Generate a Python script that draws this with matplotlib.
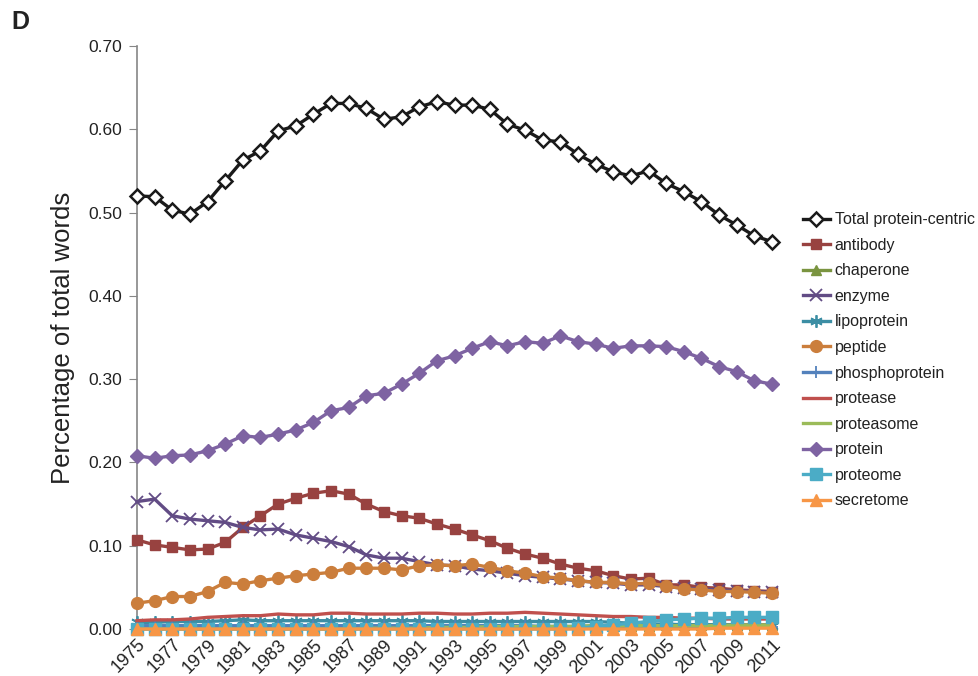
import matplotlib
matplotlib.use("Agg")
import matplotlib.pyplot as plt

plt.rcParams['font.family'] = ['Liberation Sans', 'DejaVu Sans']

years = list(range(1975, 2012))

total = [0.520, 0.519, 0.503, 0.498, 0.513, 0.538, 0.563, 0.574, 0.598, 0.604,
         0.618, 0.631, 0.631, 0.625, 0.612, 0.615, 0.627, 0.633, 0.629, 0.629,
         0.624, 0.606, 0.599, 0.587, 0.585, 0.570, 0.558, 0.549, 0.544, 0.550,
         0.535, 0.525, 0.513, 0.497, 0.485, 0.472, 0.465]
antibody = [0.107, 0.101, 0.098, 0.095, 0.096, 0.104, 0.122, 0.136, 0.150, 0.157,
            0.163, 0.166, 0.162, 0.150, 0.141, 0.136, 0.133, 0.126, 0.120, 0.113,
            0.106, 0.097, 0.090, 0.085, 0.078, 0.073, 0.070, 0.064, 0.060, 0.061,
            0.053, 0.053, 0.050, 0.049, 0.047, 0.046, 0.045]
chaperone = [0.001, 0.001, 0.001, 0.001, 0.001, 0.001, 0.001, 0.001, 0.001, 0.001,
             0.001, 0.001, 0.001, 0.001, 0.001, 0.001, 0.001, 0.002, 0.002, 0.002,
             0.002, 0.002, 0.002, 0.003, 0.003, 0.003, 0.004, 0.004, 0.004, 0.004,
             0.005, 0.005, 0.005, 0.005, 0.005, 0.005, 0.005]
enzyme = [0.153, 0.156, 0.136, 0.132, 0.130, 0.128, 0.122, 0.119, 0.120, 0.113,
          0.109, 0.105, 0.099, 0.089, 0.085, 0.085, 0.081, 0.077, 0.076, 0.072,
          0.070, 0.067, 0.064, 0.062, 0.060, 0.058, 0.056, 0.055, 0.053, 0.053,
          0.051, 0.049, 0.048, 0.047, 0.046, 0.045, 0.044]
lipoprotein = [0.008, 0.008, 0.009, 0.009, 0.009, 0.010, 0.011, 0.010, 0.010, 0.010,
               0.010, 0.010, 0.010, 0.010, 0.010, 0.010, 0.010, 0.009, 0.009, 0.009,
               0.009, 0.009, 0.009, 0.009, 0.009, 0.009, 0.009, 0.008, 0.007, 0.006,
               0.006, 0.005, 0.005, 0.005, 0.004, 0.004, 0.004]
peptide = [0.031, 0.034, 0.039, 0.039, 0.045, 0.056, 0.054, 0.058, 0.061, 0.064,
           0.066, 0.068, 0.073, 0.073, 0.073, 0.071, 0.076, 0.077, 0.076, 0.078,
           0.074, 0.070, 0.067, 0.063, 0.061, 0.058, 0.056, 0.056, 0.054, 0.055,
           0.052, 0.048, 0.047, 0.045, 0.045, 0.044, 0.043]
phosphoprotein = [0.004, 0.004, 0.004, 0.004, 0.004, 0.004, 0.004, 0.004, 0.004, 0.004,
                  0.004, 0.004, 0.004, 0.004, 0.004, 0.004, 0.004, 0.004, 0.004, 0.004,
                  0.004, 0.004, 0.004, 0.003, 0.003, 0.003, 0.003, 0.003, 0.003, 0.003,
                  0.003, 0.003, 0.003, 0.003, 0.003, 0.003, 0.003]
protease = [0.010, 0.011, 0.011, 0.012, 0.014, 0.015, 0.016, 0.016, 0.018, 0.017,
            0.017, 0.019, 0.019, 0.018, 0.018, 0.018, 0.019, 0.019, 0.018, 0.018,
            0.019, 0.019, 0.020, 0.019, 0.018, 0.017, 0.016, 0.015, 0.015, 0.014,
            0.014, 0.013, 0.013, 0.012, 0.012, 0.012, 0.012]
proteasome = [0.000, 0.000, 0.000, 0.000, 0.000, 0.000, 0.000, 0.000, 0.000, 0.000,
              0.000, 0.000, 0.000, 0.001, 0.001, 0.001, 0.001, 0.002, 0.002, 0.002,
              0.003, 0.003, 0.003, 0.003, 0.003, 0.003, 0.004, 0.004, 0.004, 0.004,
              0.004, 0.004, 0.004, 0.004, 0.004, 0.004, 0.004]
protein = [0.208, 0.205, 0.208, 0.209, 0.214, 0.222, 0.232, 0.230, 0.234, 0.239,
           0.248, 0.262, 0.266, 0.280, 0.283, 0.294, 0.307, 0.322, 0.328, 0.337,
           0.345, 0.340, 0.345, 0.343, 0.352, 0.345, 0.342, 0.337, 0.340, 0.340,
           0.339, 0.333, 0.325, 0.315, 0.309, 0.298, 0.294]
proteome = [0.000, 0.000, 0.000, 0.000, 0.000, 0.000, 0.000, 0.000, 0.000, 0.000,
            0.000, 0.000, 0.000, 0.000, 0.000, 0.000, 0.000, 0.000, 0.000, 0.000,
            0.000, 0.000, 0.000, 0.000, 0.000, 0.001, 0.003, 0.005, 0.007, 0.009,
            0.011, 0.012, 0.013, 0.013, 0.014, 0.014, 0.014]
secretome = [0.000] * 30 + [0.000, 0.000, 0.000, 0.001, 0.001, 0.001, 0.001]

series = [
    ("Total protein-centric", total, "#1a1a1a", "D", dict(mfc="white", mec="#1a1a1a", ms=7.5, mew=1.8)),
    ("antibody", antibody, "#984240", "s", dict(ms=7.5)),
    ("chaperone", chaperone, "#7A9440", "^", dict(ms=7.5)),
    ("enzyme", enzyme, "#624C85", "x", dict(ms=8, mew=1.3)),
    ("lipoprotein", lipoprotein, "#3C8EA4", (6, 2, 0), dict(ms=9, mew=1.3)),
    ("peptide", peptide, "#CB7E3C", "o", dict(ms=8.5)),
    ("phosphoprotein", phosphoprotein, "#5381BC", "+", dict(ms=9, mew=1.3)),
    ("protease", protease, "#C0504D", None, dict()),
    ("proteasome", proteasome, "#9BBB59", None, dict()),
    ("protein", protein, "#7E63A2", "D", dict(ms=7)),
    ("proteome", proteome, "#4BACC6", "s", dict(ms=8.5)),
    ("secretome", secretome, "#F79646", "^", dict(ms=8.5)),
]

fig = plt.figure(figsize=(9.79, 6.76), dpi=100)
ax = fig.add_axes([0.1399, 0.0695, 0.6487, 0.8625])

for i, (name, vals, col, mk, kw) in enumerate(series):
    ax.plot(years, vals, color=col, lw=2.4, marker=mk, label=name,
            clip_on=False, zorder=3 + i, **kw)

ax.set_xlim(1975, 2011)
ax.set_ylim(0, 0.70)
ax.set_yticks([0.0, 0.1, 0.2, 0.3, 0.4, 0.5, 0.6, 0.7])
ax.set_yticklabels(["0.00", "0.10", "0.20", "0.30", "0.40", "0.50", "0.60", "0.70"],
                   fontsize=12.5, color="#222222")
xt = list(range(1975, 2012, 2))
ax.set_xticks(xt)
ax.set_xticklabels([str(y) for y in xt], fontsize=13, rotation=45, ha='right',
                   rotation_mode='anchor', color="#222222")
ax.tick_params(axis='x', length=0, pad=5)
ax.tick_params(axis='y', length=6, color="#868686", direction='out', pad=4.5)

for s in ['top', 'right']:
    ax.spines[s].set_visible(False)
ax.spines['bottom'].set_visible(False)
ax.spines['left'].set_color("#868686")
ax.spines['left'].set_linewidth(1.2)

ax.set_ylabel("Percentage of total words", fontsize=18.5, labelpad=10, color="#222222")

leg = fig.legend(loc='center left', bbox_to_anchor=(0.820, 0.467), frameon=False,
                 fontsize=11.5, handlelength=1.7, handletextpad=0.3, labelspacing=0.66,
                 borderpad=0, borderaxespad=0)
for t in leg.get_texts():
    t.set_color("#222222")

fig.text(0.012, 0.968, "D", fontsize=18, fontweight='bold', va='center', ha='left',
         color="#222222")

fig.savefig("out.png", dpi=100)
